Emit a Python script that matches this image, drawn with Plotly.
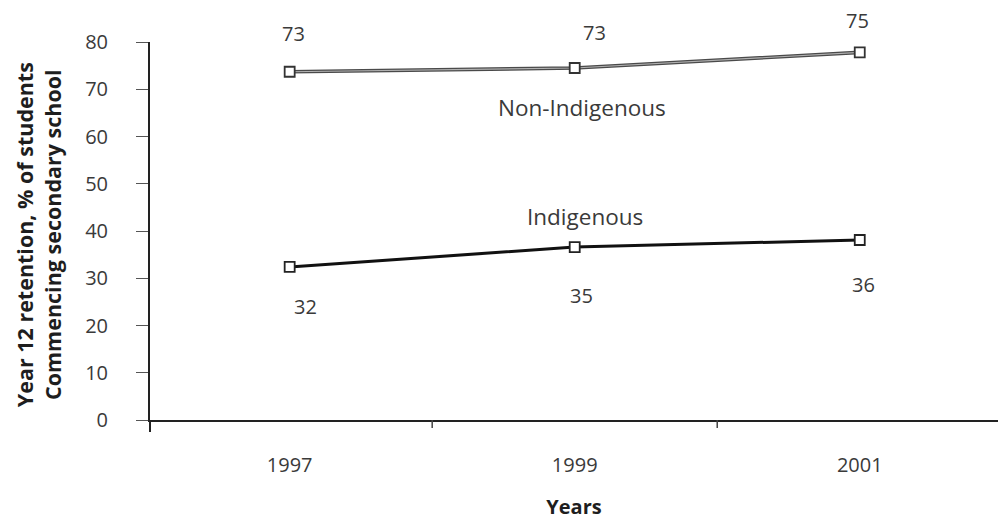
import plotly.graph_objects as go

years = ["1997", "1999", "2001"]
non_indigenous = [73.7, 74.5, 77.8]
indigenous = [32.4, 36.6, 38.1]
non_indigenous_labels = ["73", "73", "75"]
indigenous_labels = ["32", "35", "36"]

FONT = "Open Sans"
TXT = "#3a3a3a"
idx = list(range(len(years)))
fig = go.Figure()

# Non-Indigenous: double-edged grey line
fig.add_trace(go.Scatter(
    x=idx, y=non_indigenous, mode="lines",
    line=dict(color="#4a4a4a", width=3.6),
    cliponaxis=False, showlegend=False, hoverinfo="skip"))
fig.add_trace(go.Scatter(
    x=idx, y=non_indigenous, mode="lines+markers",
    line=dict(color="#b0b0b0", width=1.2),
    marker=dict(symbol="square", size=10, color="white", line=dict(width=1.8, color="#333333")),
    cliponaxis=False, showlegend=False, hoverinfo="skip"))
# Indigenous: solid black line
fig.add_trace(go.Scatter(
    x=idx, y=indigenous, mode="lines+markers",
    line=dict(color="#111111", width=3),
    marker=dict(symbol="square", size=10, color="white", line=dict(width=1.8, color="#222222")),
    cliponaxis=False, showlegend=False, hoverinfo="skip"))

# value labels: pixel offsets from each point
ni_shift = [(4, 38), (20, 35), (-2, 32)]
for i, t in enumerate(non_indigenous_labels):
    fig.add_annotation(x=i, y=non_indigenous[i], text=t, showarrow=False,
                       xshift=ni_shift[i][0], yshift=ni_shift[i][1],
                       font=dict(family=FONT, size=20, color=TXT))
in_shift = [(16, -40), (7, -48), (4, -45)]
for i, t in enumerate(indigenous_labels):
    fig.add_annotation(x=i, y=indigenous[i], text=t, showarrow=False,
                       xshift=in_shift[i][0], yshift=in_shift[i][1],
                       font=dict(family=FONT, size=20, color=TXT))

fig.add_annotation(x=1, y=non_indigenous[1], text="Non-Indigenous", showarrow=False,
                   xshift=7, yshift=-40, font=dict(family=FONT, size=22.5, color=TXT))
fig.add_annotation(x=1, y=indigenous[1], text="Indigenous", showarrow=False,
                   xshift=10, yshift=31, font=dict(family=FONT, size=22.5, color=TXT))

fig.add_annotation(xref="paper", yref="paper", x=-0.132, y=0.489,
                   xanchor="center", yanchor="middle",
                   text="<b>Year 12 retention, % of students<br>Commencing secondary school</b>",
                   textangle=-90, showarrow=False,
                   font=dict(family=FONT, size=21.5, color="#1e1e1e"))

# y-axis line extends a little below the x axis
fig.add_shape(type="line", xref="paper", yref="paper", x0=0, x1=0, y0=0, y1=-12 / 378,
              line=dict(color="#222222", width=2))

fig.update_layout(
    width=998, height=520,
    margin=dict(l=150, r=0, t=42, b=100),
    paper_bgcolor="white", plot_bgcolor="white",
    font=dict(family=FONT, size=20, color=TXT),
    xaxis=dict(
        type="linear", range=[-0.49, 2.485],
        tickvals=idx, ticktext=years, ticks="",
        showline=True, linecolor="#222222", linewidth=2,
        showgrid=False, zeroline=False, ticklabelstandoff=26, automargin=False,
        tickfont=dict(family=FONT, size=20, color=TXT),
        title=dict(text="<b>Years</b>", font=dict(family=FONT, size=20, color="#1e1e1e"), standoff=28),
    ),
    yaxis=dict(
        range=[0, 80], dtick=10, ticks="outside", ticklen=12, tickcolor="#555555",
        showline=True, linecolor="#222222", linewidth=2, automargin=False,
        showgrid=False, zeroline=False, ticklabelstandoff=24,
        tickfont=dict(family=FONT, size=20, color=TXT),
    ),
)

# category boundary ticks on the x axis
for b in [0.5, 1.5]:
    fig.add_shape(type="line", xref="x", yref="paper", x0=b, x1=b, y0=0, y1=-8 / 378,
                  line=dict(color="#444444", width=1.5))

fig.write_html("out.html", config={"displayModeBar": False},
               post_script="document.body.style.margin='0';document.body.style.overflow='hidden';")
